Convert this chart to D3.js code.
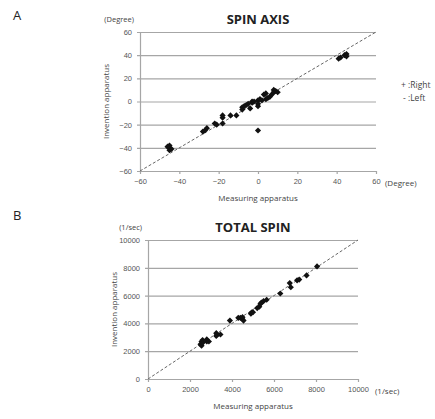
<!DOCTYPE html>
<html>
<head>
<meta charset="utf-8">
<script src="https://cdn.jsdelivr.net/npm/d3@7"></script>
<style>
  body { margin: 0; background: #fff; }
  svg { display: block; font-family: "Open Sans", "Noto Sans", sans-serif; }
  .tick text { fill: #555; font-size: 7.5px; }
  .grid line { stroke: #a6a6a6; stroke-width: 1.2; }
</style>
</head>
<body>
<svg id="fig" width="435" height="419"></svg>
<script>
// Panel A: spin axis (degree), measuring vs invention apparatus
const axisMeasured = [-45, -45, -45, -44, -46, -28, -27, -26, -22, -21, -18, -18, -18, -14, -11,
  -8, -8, -7, -6, -5, -4, -3, -3, -2, 0, 0, 0, 0, 1, 2, 3, 4, 4, 5, 6, 7, 8, 8, 9, 10, 41, 42, 44, 45, 45];
const axisInvention = [-38, -40, -42, -41, -39, -26, -25, -23, -19, -20, -12, -19, -14, -12, -12,
  -5, -7, -4, -3, -2, -6, 0, -1, 0, -25, 1, -2, -4, 2, 1, 6, 7, 2, 3, 4, 6, 10, 8, 9, 8, 37, 38, 40, 41, 39];
const axisTicks = [-60, -40, -20, 0, 20, 40, 60];

// Panel B: total spin (1/sec)
const spinMeasured = [2500, 2550, 2600, 2550, 2600, 2800, 2800, 2900, 3250, 3250, 3300, 3450, 3900,
  4300, 4400, 4500, 4550, 4500, 4900, 4950, 5000, 5200, 5300, 5350, 5400, 5500, 5650, 6300, 6750, 6800,
  7100, 7200, 7550, 8050];
const spinInvention = [2500, 2700, 2800, 2400, 2600, 2850, 2700, 2700, 3300, 3100, 3200, 3200, 4200,
  4400, 4400, 4300, 4200, 4450, 4700, 4800, 4800, 5100, 5200, 5400, 5500, 5600, 5700, 6150, 6900, 6600,
  7100, 7150, 7450, 8100];
const spinTicks = [0, 2000, 4000, 6000, 8000, 10000];

const svg = d3.select('#fig');
const textCol = '#444';

function panel(cfg) {
  const x = d3.scaleLinear().domain(cfg.domain).range([cfg.left, cfg.right]);
  const y = d3.scaleLinear().domain(cfg.domain).range([cfg.bottom, cfg.top]);
  const fmt = d3.format('d');
  const g = svg.append('g');

  // horizontal gridlines (also act as y ticks)
  const grid = g.append('g')
      .attr('class', 'grid')
      .attr('transform', `translate(${cfg.left},0)`)
      .call(d3.axisLeft(y).tickValues(cfg.ticks)
        .tickSize(-(cfg.right - cfg.left)).tickSizeOuter(0).tickFormat(''));
  grid.select('.domain').remove();
  grid.selectAll('line').attr('x1', -3);

  // y axis labels + line
  const yAx = g.append('g')
      .attr('transform', `translate(${cfg.left},0)`)
      .call(d3.axisLeft(y).tickValues(cfg.ticks).tickFormat(fmt).tickSize(0).tickPadding(8));
  yAx.select('.domain').attr('stroke', '#a6a6a6').attr('stroke-width', 1.2);

  // x axis
  const xAx = g.append('g')
      .attr('transform', `translate(0,${cfg.bottom})`)
      .call(d3.axisBottom(x).tickValues(cfg.ticks).tickFormat(fmt)
        .tickSize(3).tickSizeOuter(0).tickPadding(5));
  xAx.select('.domain').attr('stroke', '#a6a6a6').attr('stroke-width', 1.2);
  xAx.selectAll('.tick line').attr('stroke', '#a6a6a6').attr('stroke-width', 1.2);

  // identity line
  g.append('line')
      .attr('x1', x(cfg.domain[0])).attr('y1', y(cfg.domain[0]))
      .attr('x2', x(cfg.domain[1])).attr('y2', y(cfg.domain[1]))
      .attr('stroke', '#666').attr('stroke-width', 1).attr('stroke-dasharray', '3,2');

  // points
  g.selectAll('.pt')
    .data(cfg.xs.map((d, i) => [d, cfg.ys[i]]))
    .join('path')
      .attr('class', 'pt')
      .attr('d', d3.symbol(d3.symbolSquare, 19))
      .attr('transform', d => `translate(${x(d[0])},${y(d[1])}) rotate(45)`)
      .attr('fill', '#111');

  // titles and units
  const mid = (cfg.left + cfg.right) / 2;
  g.append('text').attr('x', mid).attr('y', cfg.top - 8)
      .attr('text-anchor', 'middle').attr('font-size', 13).attr('font-weight', 'bold')
      .attr('fill', '#222').text(cfg.title);
  g.append('text').attr('x', cfg.left - 6).attr('y', cfg.top - 10)
      .attr('text-anchor', 'end').attr('font-size', 7.5).attr('fill', textCol).text(cfg.unit);
  g.append('text').attr('x', cfg.right + cfg.unitGap).attr('y', cfg.bottom + 15)
      .attr('font-size', 8).attr('fill', textCol).text(cfg.unit);
  g.append('text').attr('x', mid).attr('y', cfg.bottom + 30)
      .attr('text-anchor', 'middle').attr('font-size', 8).attr('fill', textCol)
      .text('Measuring apparatus');
  g.append('text')
      .attr('transform', `translate(${cfg.left - 31},${(cfg.top + cfg.bottom) / 2}) rotate(-90)`)
      .attr('text-anchor', 'middle').attr('font-size', 8).attr('fill', textCol)
      .text('Invention apparatus');
  g.append('text').attr('x', 13).attr('y', cfg.letterY)
      .attr('font-size', 13).attr('fill', '#222').text(cfg.letter);
}

panel({
  letter: 'A', letterY: 20, title: 'SPIN AXIS', unit: '(Degree)', unitGap: 9,
  domain: [-60, 60], ticks: axisTicks,
  left: 140, right: 376, top: 32, bottom: 171,
  xs: axisMeasured, ys: axisInvention
});

panel({
  letter: 'B', letterY: 220, title: 'TOTAL SPIN', unit: '(1/sec)', unitGap: 17,
  domain: [0, 10000], ticks: spinTicks,
  left: 148, right: 358, top: 240, bottom: 379,
  xs: spinMeasured, ys: spinInvention
});

// legend for panel A
svg.append('text').attr('x', 401).attr('y', 88).attr('font-size', 8.5).attr('fill', textCol)
    .text('+ :Right');
svg.append('text').attr('x', 403).attr('y', 101).attr('font-size', 8.5).attr('fill', textCol)
    .text('- :Left');
</script>
</body>
</html>
